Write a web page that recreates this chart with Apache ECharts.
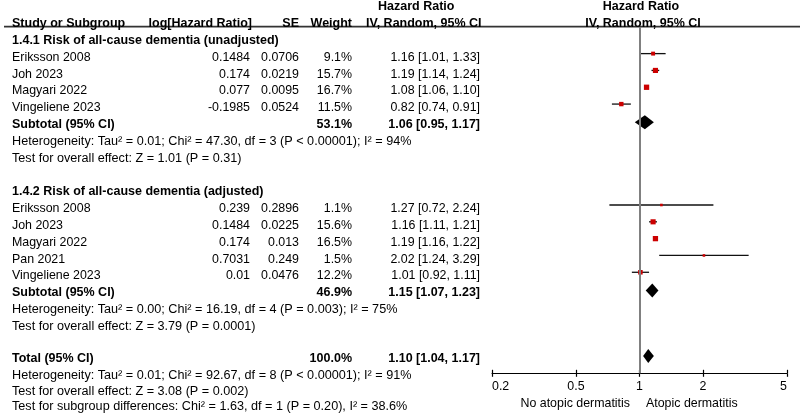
<!DOCTYPE html>
<html><head><meta charset="utf-8">
<script src="https://cdn.jsdelivr.net/npm/echarts@6/dist/echarts.min.js"></script>
<style>html,body{margin:0;padding:0;background:#fff}#c{width:800px;height:420px}</style>
</head><body><div id="c"></div>
<script>
// ---------------- data ----------------
const subgroupTitles = ['1.4.1 Risk of all-cause dementia (unadjusted)', '1.4.2 Risk of all-cause dementia (adjusted)'];
const studyNames = ['Eriksson 2008','Joh 2023','Magyari 2022','Vingeliene 2023','Eriksson 2008','Joh 2023','Magyari 2022','Pan 2021','Vingeliene 2023'];
const studyGroup = [0,0,0,0,1,1,1,1,1];
const logHR = ['0.1484','0.174','0.077','-0.1985','0.239','0.1484','0.174','0.7031','0.01'];
const seVals = ['0.0706','0.0219','0.0095','0.0524','0.2896','0.0225','0.013','0.249','0.0476'];
const weights = [9.1,15.7,16.7,11.5,1.1,15.6,16.5,1.5,12.2];
const hr = [1.16,1.19,1.08,0.82,1.27,1.16,1.19,2.02,1.01];
const ciLow = [1.01,1.14,1.06,0.74,0.72,1.11,1.16,1.24,0.92];
const ciHigh = [1.33,1.24,1.10,0.91,2.24,1.21,1.22,3.29,1.11];
const pooledLabels = ['Subtotal (95% CI)','Subtotal (95% CI)','Total (95% CI)'];
const pooledWeights = [53.1,46.9,100.0];
const pooledHR = [1.06,1.15,1.10];
const pooledLow = [0.95,1.07,1.04];
const pooledHigh = [1.17,1.23,1.17];
const heterogeneity = [
  'Heterogeneity: Tau² = 0.01; Chi² = 47.30, df = 3 (P < 0.00001); I² = 94%',
  'Heterogeneity: Tau² = 0.00; Chi² = 16.19, df = 4 (P = 0.003); I² = 75%',
  'Heterogeneity: Tau² = 0.01; Chi² = 92.67, df = 8 (P < 0.00001); I² = 91%'
];
const overallEffect = [
  'Test for overall effect: Z = 1.01 (P = 0.31)',
  'Test for overall effect: Z = 3.79 (P = 0.0001)',
  'Test for overall effect: Z = 3.08 (P = 0.002)'
];
const subgroupDiff = 'Test for subgroup differences: Chi² = 1.63, df = 1 (P = 0.20), I² = 38.6%';
const xTicks = [0.2,0.5,1,2,5];
const headerCols = ['Study or Subgroup','log[Hazard Ratio]','SE','Weight','Hazard Ratio','IV, Random, 95% CI'];
const favoursLeft = 'No atopic dermatitis';
const favoursRight = 'Atopic dermatitis';

// ---------------- layout helpers ----------------
const FONT = '"Liberation Sans", Arial, sans-serif';
const FS = 12.4, FS_BOLD = 12.5, FS_STAT = 12.65;
const COL = {name: 12, log: 250, se: 299, w: 352, ci: 480};
const fmtCI = (m, l, h) => m.toFixed(2) + ' [' + l.toFixed(2) + ', ' + h.toFixed(2) + ']';
// rows below the overall total are set slightly tighter
const slot = r => r < 19 ? r : (r < 22 ? r - 0.11 : r - 0.24);

const tableRows = [];
const studyPts = [];
const pooledPts = [];
let r = 0;
for (let g = 0; g < 2; g++) {
  tableRows.push({row: r++, cells: [{t: subgroupTitles[g], x: COL.name, a: 'left', b: true}]});
  for (let i = 0; i < studyNames.length; i++) {
    if (studyGroup[i] !== g) continue;
    tableRows.push({row: r, cells: [
      {t: studyNames[i], x: COL.name, a: 'left'},
      {t: logHR[i], x: COL.log, a: 'right'},
      {t: seVals[i], x: COL.se, a: 'right'},
      {t: weights[i].toFixed(1) + '%', x: COL.w, a: 'right'},
      {t: fmtCI(hr[i], ciLow[i], ciHigh[i]), x: COL.ci, a: 'right'}
    ]});
    studyPts.push([hr[i], slot(r), ciLow[i], ciHigh[i], weights[i]]);
    r++;
  }
  tableRows.push({row: r, cells: [
    {t: pooledLabels[g], x: COL.name, a: 'left', b: true},
    {t: pooledWeights[g].toFixed(1) + '%', x: COL.w, a: 'right', b: true},
    {t: fmtCI(pooledHR[g], pooledLow[g], pooledHigh[g]), x: COL.ci, a: 'right', b: true}
  ]});
  pooledPts.push([pooledHR[g], slot(r), pooledLow[g], pooledHigh[g]]);
  r++;
  tableRows.push({row: r++, cells: [{t: heterogeneity[g], x: COL.name, a: 'left', s: true}]});
  tableRows.push({row: r++, cells: [{t: overallEffect[g], x: COL.name, a: 'left', s: true}]});
  r++; // blank
}
tableRows.push({row: r, cells: [
  {t: pooledLabels[2], x: COL.name, a: 'left', b: true},
  {t: pooledWeights[2].toFixed(1) + '%', x: COL.w, a: 'right', b: true},
  {t: fmtCI(pooledHR[2], pooledLow[2], pooledHigh[2]), x: COL.ci, a: 'right', b: true}
]});
pooledPts.push([pooledHR[2], slot(r), pooledLow[2], pooledHigh[2]]);
r++;
tableRows.push({row: r++, cells: [{t: heterogeneity[2], x: COL.name, a: 'left', s: true}]});
tableRows.push({row: r++, cells: [{t: overallEffect[2], x: COL.name, a: 'left', s: true}]});
tableRows.push({row: r++, cells: [{t: subgroupDiff, x: COL.name, a: 'left', s: true}]});
tableRows.push({row: -2, cells: [
  {t: headerCols[4], x: 378, a: 'left', b: true},
  {t: headerCols[4], x: 641, a: 'center', b: true}
]});
tableRows.push({row: -1, cells: [
  {t: headerCols[0], x: COL.name, a: 'left', b: true},
  {t: headerCols[1], x: 252, a: 'right', b: true},
  {t: headerCols[2], x: COL.se, a: 'right', b: true},
  {t: headerCols[3], x: COL.w, a: 'right', b: true},
  {t: headerCols[5], x: 366, a: 'left', b: true},
  {t: headerCols[5], x: 643, a: 'center', b: true}
]});

const chart = echarts.init(document.getElementById('c'), null, {renderer: 'canvas'});

const gridBox = {left: 492, right: 13, top: 27, bottom: 46.7, containLabel: false};
const xAxisBase = {
  type: 'log', logBase: 10, min: 0.2, max: 5, position: 'bottom',
  splitLine: {show: false}, minorTick: {show: false}
};
const yAxisBase = {type: 'value', inverse: true, min: -0.713, max: 19.875, show: false};

chart.setOption({
  animation: false,
  backgroundColor: '#fff',
  grid: [Object.assign({}, gridBox), Object.assign({}, gridBox)],
  xAxis: [
    Object.assign({}, xAxisBase, {
      gridIndex: 0,
      axisLine: {show: true, onZero: false, lineStyle: {color: '#000', width: 1}},
      axisTick: {show: true, inside: false, length: 3.5, lineStyle: {color: '#000', width: 1.2}, customValues: xTicks},
      axisLabel: {show: true, customValues: xTicks, color: '#000', fontSize: FS, fontFamily: FONT, margin: 7,
        alignMinLabel: 'left', alignMaxLabel: 'right', formatter: v => String(+(+v).toFixed(2))}
    }),
    Object.assign({}, xAxisBase, {
      gridIndex: 1,
      axisLine: {show: false, onZero: false},
      axisTick: {show: true, inside: true, length: 3.5, lineStyle: {color: '#000', width: 1.2}, customValues: xTicks},
      axisLabel: {show: false}
    })
  ],
  yAxis: [Object.assign({gridIndex: 0}, yAxisBase), Object.assign({gridIndex: 1}, yAxisBase)],
  graphic: [
    {type: 'line', shape: {x1: 4, y1: 26.6, x2: 800, y2: 26.6}, style: {stroke: '#333', lineWidth: 1.6}},
    {type: 'text', x: 630, y: 403.5, style: {text: favoursLeft, align: 'right', verticalAlign: 'middle', fontSize: FS, fontFamily: FONT, fill: '#000'}},
    {type: 'text', x: 646, y: 403.5, style: {text: favoursRight, align: 'left', verticalAlign: 'middle', fontSize: FS, fontFamily: FONT, fill: '#000'}}
  ],
  series: [
    {
      type: 'custom', name: 'studies', xAxisIndex: 0, yAxisIndex: 0, clip: false,
      data: studyPts, encode: {x: 0, y: 1},
      renderItem: function (params, api) {
        const row = api.value(1);
        const c = api.coord([api.value(0), row]);
        const l = api.coord([api.value(2), row]);
        const h = api.coord([api.value(3), row]);
        const y = c[1] - 2.2;
        const s = Math.max(2.6, 1.3 * Math.sqrt(api.value(4)));
        return {type: 'group', children: [
          {type: 'line', shape: {x1: l[0], y1: y, x2: h[0], y2: y}, style: {stroke: '#111', lineWidth: 1.3}},
          {type: 'rect', shape: {x: c[0] - s / 2, y: y - s / 2, width: s, height: s}, style: {fill: '#cc0000'}}
        ]};
      },
      markLine: {
        silent: true, symbol: 'none', label: {show: false},
        lineStyle: {color: '#808080', width: 2, type: 'solid'},
        data: [{xAxis: 1}]
      },
      z: 3
    },
    {
      type: 'custom', name: 'pooled', xAxisIndex: 0, yAxisIndex: 0, clip: false,
      data: pooledPts, encode: {x: 0, y: 1},
      renderItem: function (params, api) {
        const row = api.value(1);
        const c = api.coord([api.value(0), row]);
        const l = api.coord([api.value(2), row]);
        const h = api.coord([api.value(3), row]);
        const y = c[1] - 0.8;
        const hh = 7;
        return {type: 'polygon', shape: {points: [[l[0], y], [c[0], y - hh], [h[0], y], [c[0], y + hh]]}, style: {fill: '#000'}};
      },
      z: 4
    },
    {
      type: 'custom', name: 'table', xAxisIndex: 0, yAxisIndex: 0, clip: false, silent: true,
      data: tableRows.map((t, i) => [1, slot(t.row), i]), encode: {x: 0, y: 1},
      renderItem: function (params, api) {
        const t = tableRows[api.value(2)];
        const y = api.coord([1, api.value(1)])[1] + 1.5;
        return {type: 'group', children: t.cells.map(c => ({
          type: 'text',
          style: {text: c.t, x: c.x, y: y, align: c.a, verticalAlign: 'middle',
            fontSize: c.b ? FS_BOLD : (c.s ? FS_STAT : FS), fontFamily: FONT,
            fontWeight: c.b ? 'bold' : 'normal', fill: '#000'}
        }))};
      },
      z: 5
    }
  ]
});
</script>
</body></html>
